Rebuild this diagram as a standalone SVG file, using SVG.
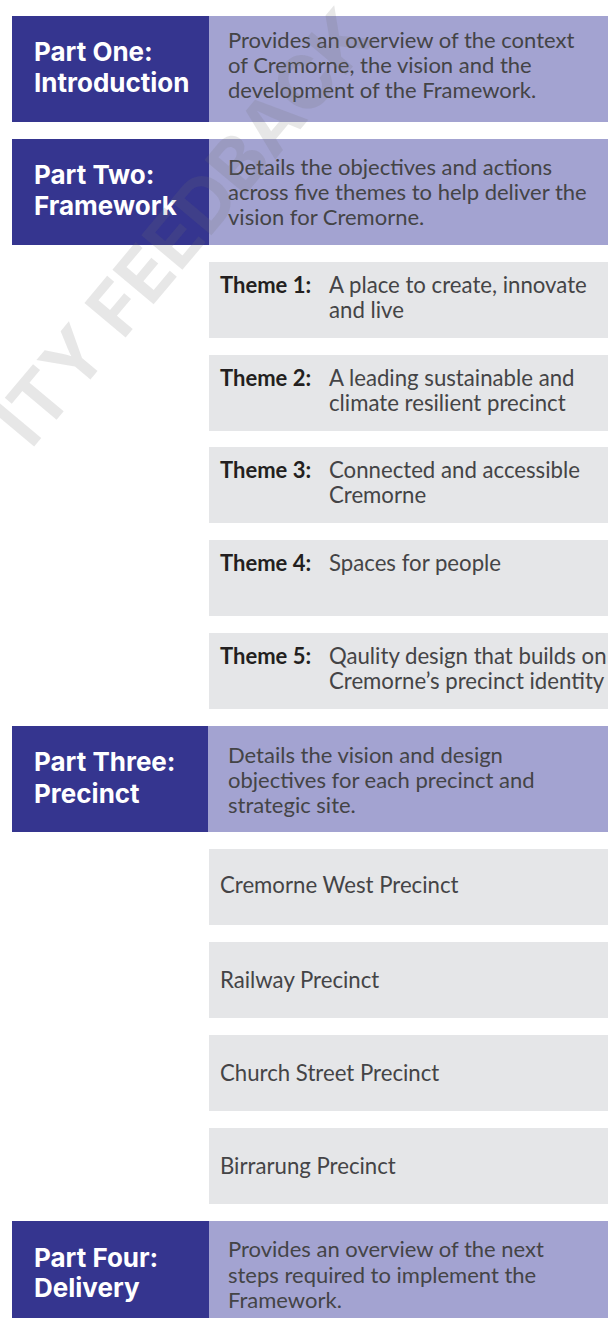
<svg xmlns="http://www.w3.org/2000/svg" width="608" height="1318" viewBox="0 0 608 1318">
<style>
.dark{fill:#35358f}
.light{fill:#a3a3d1}
.gray{fill:#e5e6e8}
.head{font-family:Inter,"Liberation Sans",sans-serif;font-weight:700;font-size:26px;fill:#ffffff}
.desc{font-family:Lato,"Liberation Sans",sans-serif;font-weight:400;font-size:22px;fill:#444446}
.tl{font-family:Lato,"Liberation Sans",sans-serif;font-weight:700;font-size:22px;fill:#231f20}
.tb{font-family:Lato,"Liberation Sans",sans-serif;font-weight:400;font-size:22.2px;fill:#444446}
.wm{font-family:Inter,"Liberation Sans",sans-serif;font-weight:700;font-size:74px;fill:#6e6e6e;fill-opacity:0.17}
</style>
<rect width="608" height="1318" fill="#ffffff"/>
<g id="part-one">
<rect class="dark" x="12" y="16" width="197" height="106"/>
<rect class="light" x="209" y="16" width="399" height="106"/>
<text class="head" x="34" y="61">Part One:</text>
<text class="head" x="34" y="92">Introduction</text>
<text class="desc" x="228" y="48">Provides an overview of the context</text>
<text class="desc" x="228" y="73">of Cremorne, the vision and the</text>
<text class="desc" x="228" y="98">development of the Framework.</text>
</g>
<g id="part-two">
<rect class="dark" x="12" y="139" width="197" height="106"/>
<rect class="light" x="209" y="139" width="399" height="106"/>
<text class="head" x="34" y="184">Part Two:</text>
<text class="head" x="34" y="215">Framework</text>
<text class="desc" x="228" y="175">Details the objectives and actions</text>
<text class="desc" x="228" y="200">across five themes to help deliver the</text>
<text class="desc" x="228" y="225">vision for Cremorne.</text>
</g>
<g id="theme-1">
<rect class="gray" x="209" y="262" width="399" height="76"/>
<text class="tl" x="220" y="293">Theme 1:</text>
<text class="tb" x="329" y="293">A place to create, innovate</text>
<text class="tb" x="329" y="318">and live</text>
</g>
<g id="theme-2">
<rect class="gray" x="209" y="355" width="399" height="76"/>
<text class="tl" x="220" y="386">Theme 2:</text>
<text class="tb" x="329" y="386">A leading sustainable and</text>
<text class="tb" x="329" y="411">climate resilient precinct</text>
</g>
<g id="theme-3">
<rect class="gray" x="209" y="447" width="399" height="76"/>
<text class="tl" x="220" y="478">Theme 3:</text>
<text class="tb" x="329" y="478">Connected and accessible</text>
<text class="tb" x="329" y="503">Cremorne</text>
</g>
<g id="theme-4">
<rect class="gray" x="209" y="540" width="399" height="76"/>
<text class="tl" x="220" y="571">Theme 4:</text>
<text class="tb" x="329" y="571">Spaces for people</text>
</g>
<g id="theme-5">
<rect class="gray" x="209" y="633" width="399" height="76"/>
<text class="tl" x="220" y="664">Theme 5:</text>
<text class="tb" x="329" y="664">Qaulity design that builds on</text>
<text class="tb" x="329" y="689">Cremorne’s precinct identity</text>
</g>
<g id="part-three">
<rect class="dark" x="12" y="726" width="197" height="106"/>
<rect class="light" x="208" y="726" width="400" height="106"/>
<text class="head" x="34" y="771">Part Three:</text>
<text class="head" x="34" y="803">Precinct</text>
<text class="desc" x="228" y="763">Details the vision and design</text>
<text class="desc" x="228" y="788">objectives for each precinct and</text>
<text class="desc" x="228" y="813">strategic site.</text>
</g>
<g id="precinct-cremorne-west">
<rect class="gray" x="209" y="849" width="399" height="76"/>
<text class="tb" x="220" y="893">Cremorne West Precinct</text>
</g>
<g id="precinct-railway">
<rect class="gray" x="209" y="942" width="399" height="76"/>
<text class="tb" x="220" y="988">Railway Precinct</text>
</g>
<g id="precinct-church-street">
<rect class="gray" x="209" y="1035" width="399" height="76"/>
<text class="tb" x="220" y="1081">Church Street Precinct</text>
</g>
<g id="precinct-birrarung">
<rect class="gray" x="209" y="1128" width="399" height="76"/>
<text class="tb" x="220" y="1174">Birrarung Precinct</text>
</g>
<g id="part-four">
<rect class="dark" x="12" y="1221" width="197" height="97"/>
<rect class="light" x="209" y="1221" width="399" height="97"/>
<text class="head" x="34" y="1267">Part Four:</text>
<text class="head" x="34" y="1297">Delivery</text>
<text class="desc" x="228" y="1257">Provides an overview of the next</text>
<text class="desc" x="228" y="1283">steps required to implement the</text>
<text class="desc" x="228" y="1308">Framework.</text>
</g>
<g id="connectors"/>
<g id="watermark">
<text class="wm" x="377" y="38" text-anchor="end" transform="rotate(-50 377 38)">ITY FEEDBACK</text>
</g>
</svg>
